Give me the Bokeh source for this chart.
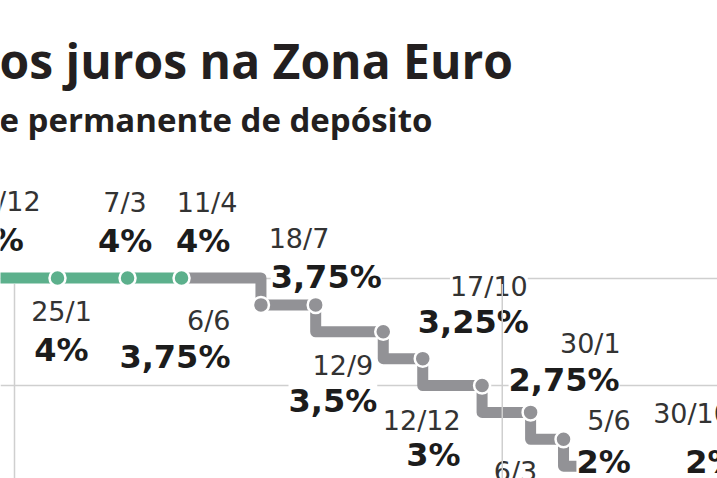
import pandas as pd
from bokeh.plotting import figure
from bokeh.models import ColumnDataSource, Range1d, Label
from bokeh.core.properties import value
from bokeh.embed import file_html
from bokeh.resources import INLINE

# ECB deposit facility rate decisions (%)
meeting_dates = ["2023-12-14", "2024-01-25", "2024-03-07", "2024-04-11",
                 "2024-06-06", "2024-07-18", "2024-09-12", "2024-10-17",
                 "2024-12-12", "2025-01-30", "2025-03-06", "2025-04-17",
                 "2025-06-05", "2025-10-30"]
deposit_rate = [4.0, 4.0, 4.0, 4.0, 3.75, 3.75, 3.5, 3.25, 3.0, 2.75, 2.5,
                2.25, 2.0, 2.0]
grid_rates = [4.0, 3.0]
year_marks = ["2024-01-01", "2025-01-01"]

title_text = "os juros na Zona Euro"
subtitle_text = "e permanente de depósito"

# label placement around each point (pixels): alignment and offsets of the
# date line and of the rate line
label_align = ["center", "center", "center", "center", "right", "left",
               "right", "right", "right", "right", "center", "center",
               "right", "left"]
date_dx = [21, 4, -2.5, 25.5, -30.5, -47, -10, 105, -21.5, 90, -48, 0, -12.5, -104]
date_dy = [-64.5, 45.5, -63.5, -63.5, 27.5, -54.5, 45.5, -61, 47, -57, 43.5, 60, -60.5, -67.5]
rate_dx = [16, 4, -2.5, 21.5, -30.5, -45, -6, 106, -21.5, 89, -48, 0, -12.5, -72]
rate_dy = [-24.5, 85.5, -23.5, -23.5, 65.5, -14.5, 83.5, -23, 83, -19, 82, 100, -17.5, -17.5]

DATE_SIZE = 27
RATE_SIZE = 32
# the text glyphs sit their alphabetic baseline a little below the anchor
BASE_SHIFT = 0.43
LINE_W = 11
HEIGHT = 478

GREEN = "#5cb08c"
GREY = "#929296"
GRID = "#cfcfcf"

# time axis: days since the 27/10/2022 meeting, on a log scale so the
# more recent meetings sit closer together
ORIGIN = pd.Timestamp("2022-10-27")
ts = [pd.Timestamp(d) for d in meeting_dates]
xs = [(t - ORIGIN).days for t in ts]
n = len(xs)


def pct(r):
    return f"{r:g}".replace(".", ",") + "%"


src = ColumnDataSource(dict(
    x=xs, y=deposit_rate,
    date_text=[f"{t.day}/{t.month}" for t in ts],
    rate_text=[pct(r) for r in deposit_rate],
    align=label_align,
    ddx=date_dx, ddy=[d - BASE_SHIFT * DATE_SIZE for d in date_dy],
    rdx=rate_dx, rdy=[d - BASE_SHIFT * RATE_SIZE for d in rate_dy],
))

y_range = Range1d(2.1349, 6.5814)
p = figure(width=717, height=HEIGHT, output_backend="svg", toolbar_location=None,
           x_axis_type="log", x_axis_location=None, y_axis_location=None,
           x_range=Range1d(423.46, 1045.4), y_range=y_range,
           min_border=0, outline_line_color=None)
p.grid.visible = False
p.background_fill_color = "white"
p.border_fill_color = "white"

# reference lines at 4% and 3%
p.hspan(y=grid_rates, line_color=GRID, line_width=1.5)

# first cut: the green plateau ends at the last meeting before it
first_cut = next(i for i in range(1, n) if deposit_rate[i] < deposit_rate[i - 1])

p.line(xs[:first_cut], deposit_rate[:first_cut], line_color=GREEN,
       line_width=LINE_W, line_join="round")

# stepped path for the easing cycle: the first cut drops at its own date,
# the following ones drop at the preceding meeting
px, py = [xs[first_cut - 1]], [deposit_rate[first_cut - 1]]
for i in range(first_cut, n):
    if deposit_rate[i] != deposit_rate[i - 1]:
        if i == first_cut:
            px.append(xs[i]); py.append(deposit_rate[i - 1])
        else:
            px.append(xs[i - 1]); py.append(deposit_rate[i])
    px.append(xs[i]); py.append(deposit_rate[i])
p.line(px, py, line_color=GREY, line_width=LINE_W, line_join="round")

src.data["dot_color"] = [GREEN if i < first_cut else GREY for i in range(n)]
p.scatter("x", "y", source=src, size=16, fill_color="dot_color",
          line_color="white", line_width=2.5)

# labels: date and rate
p.text("x", "y", text="date_text", source=src, x_offset="ddx", y_offset="ddy",
       text_align="align", text_baseline="alphabetic",
       text_font=value("DejaVu Sans"), text_font_size=f"{DATE_SIZE}px",
       text_color="#333333", background_fill_color="white")
p.text("x", "y", text="rate_text", source=src, x_offset="rdx", y_offset="rdy",
       text_align="align", text_baseline="alphabetic",
       text_font=value("DejaVu Sans"), text_font_size=f"{RATE_SIZE}px",
       text_font_style="bold", text_color="#1c1c1c",
       background_fill_color="white")

# year separators, starting just under the 4% line
units_per_px = (y_range.end - y_range.start) / HEIGHT
top = grid_rates[0] - (LINE_W / 2 + 0.5) * units_per_px
yx = [(pd.Timestamp(d) - ORIGIN).days for d in year_marks]
p.segment(x0=yx, y0=[top] * len(yx), x1=yx,
          y1=[y_range.start] * len(yx), line_color=GRID, line_width=1.5)

p.add_layout(Label(x=-1, y=418, x_units="screen", y_units="screen",
                   text=title_text, text_font="Open Sans",
                   text_font_size="48px", text_font_style="bold",
                   text_color="#231f20", text_baseline="alphabetic"))
p.add_layout(Label(x=-1, y=359, x_units="screen", y_units="screen",
                   text=subtitle_text, text_font="Open Sans",
                   text_font_size="33px", text_font_style="bold",
                   text_color="#231f20", text_baseline="alphabetic"))

open("out.html", "w").write(file_html(p, INLINE))
